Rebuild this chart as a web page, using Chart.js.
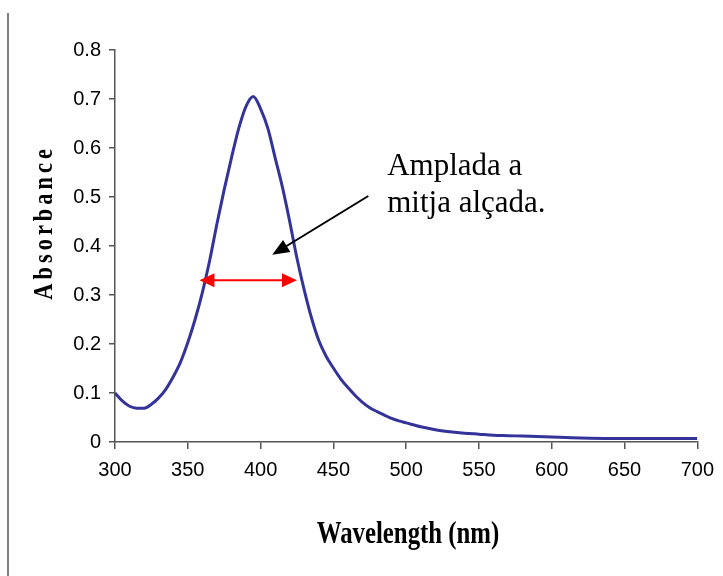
<!DOCTYPE html>
<html>
<head>
<meta charset="utf-8">
<script src="https://cdn.jsdelivr.net/npm/chart.js@4.4.0/dist/chart.umd.min.js"></script>
<style>
  body { margin: 0; background: #fff; }
  canvas { display: block; }
</style>
</head>
<body>
<canvas id="spectrum" width="723" height="576"></canvas>
<script>
// dades de l'espectre
const wavelengths = [300, 305, 310, 315, 320, 325, 330, 335, 340, 345,
  350, 355, 360, 365, 370, 375, 380, 385, 390, 395,
  400, 405, 410, 415, 420, 425, 430, 435, 440, 445,
  450, 455, 460, 465, 470, 475, 480, 485, 490, 495,
  500, 510, 520, 530, 540, 550, 560, 570, 580, 590,
  600, 610, 620, 640, 660, 680, 700];
const absorbance = [0.100, 0.084, 0.073, 0.069, 0.069, 0.077, 0.090, 0.108, 0.133, 0.163,
  0.203, 0.250, 0.305, 0.370, 0.445, 0.515, 0.580, 0.640, 0.685, 0.705,
  0.680, 0.640, 0.580, 0.520, 0.450, 0.375, 0.310, 0.253, 0.207, 0.175,
  0.151, 0.129, 0.111, 0.095, 0.081, 0.070, 0.062, 0.055, 0.048, 0.043,
  0.039, 0.031, 0.025, 0.021, 0.018, 0.016, 0.014, 0.013, 0.012, 0.011,
  0.010, 0.009, 0.008, 0.007, 0.007, 0.007, 0.007];
const xTicks = [300, 350, 400, 450, 500, 550, 600, 650, 700];
const yTicks = [0, 0.1, 0.2, 0.3, 0.4, 0.5, 0.6, 0.7, 0.8];

// anotacions
const halfHeight = 0.33;
const halfLeft = 358;
const halfRight = 425;
const arrowFrom = [474, 0.502];
const arrowTo = [408, 0.382];
const noteLines = ['Amplada a', 'mitja alçada.'];
const noteAt = [487, 0.545];
const noteLine2 = 0.469;

function arrowHead(ctx, x0, y0, x1, y1, len, half) {
  const a = Math.atan2(y1 - y0, x1 - x0);
  ctx.beginPath();
  ctx.moveTo(x1, y1);
  ctx.lineTo(x1 - len * Math.cos(a) + half * Math.sin(a), y1 - len * Math.sin(a) - half * Math.cos(a));
  ctx.lineTo(x1 - len * Math.cos(a) - half * Math.sin(a), y1 - len * Math.sin(a) + half * Math.cos(a));
  ctx.closePath();
  ctx.fill();
}

const extras = {
  id: 'extras',
  afterDraw(chart) {
    const { ctx, scales: { x, y } } = chart;
    ctx.save();

    // línia del marge esquerre
    ctx.strokeStyle = '#555';
    ctx.lineWidth = 1.5;
    ctx.beginPath();
    ctx.moveTo(8, 13);
    ctx.lineTo(8, 576);
    ctx.stroke();

    // fletxa vermella (amplada a mitja alçada)
    const ry = y.getPixelForValue(halfHeight);
    const rx0 = x.getPixelForValue(halfLeft);
    const rx1 = x.getPixelForValue(halfRight);
    ctx.strokeStyle = '#ff0000';
    ctx.fillStyle = '#ff0000';
    ctx.lineWidth = 2;
    ctx.beginPath();
    ctx.moveTo(rx0 + 10, ry);
    ctx.lineTo(rx1 - 10, ry);
    ctx.stroke();
    arrowHead(ctx, rx1, ry, rx0, ry, 15, 7);
    arrowHead(ctx, rx0, ry, rx1, ry, 15, 7);

    // fletxa negra
    const bx0 = x.getPixelForValue(arrowFrom[0]);
    const by0 = y.getPixelForValue(arrowFrom[1]);
    const bx1 = x.getPixelForValue(arrowTo[0]);
    const by1 = y.getPixelForValue(arrowTo[1]);
    ctx.strokeStyle = '#000';
    ctx.fillStyle = '#000';
    ctx.lineWidth = 2;
    ctx.beginPath();
    ctx.moveTo(bx0, by0);
    ctx.lineTo(bx1 + (bx0 - bx1) * 0.12, by1 + (by0 - by1) * 0.12);
    ctx.stroke();
    arrowHead(ctx, bx0, by0, bx1, by1, 17, 7);

    // text de l'anotació
    ctx.font = '31px "Liberation Serif", "Times New Roman", serif';
    ctx.textAlign = 'left';
    ctx.textBaseline = 'alphabetic';
    ctx.fillText(noteLines[0], x.getPixelForValue(noteAt[0]), y.getPixelForValue(noteAt[1]));
    ctx.fillText(noteLines[1], x.getPixelForValue(noteAt[0]), y.getPixelForValue(noteLine2));

    // títols dels eixos
    ctx.font = 'bold 31px "Liberation Serif", "Times New Roman", serif';
    ctx.textAlign = 'center';
    ctx.save();
    ctx.translate(408, 543);
    ctx.scale(0.8, 1);
    ctx.fillText('Wavelength (nm)', 0, 0);
    ctx.restore();

    ctx.save();
    ctx.translate(45, 224);
    ctx.rotate(-Math.PI / 2);
    ctx.scale(0.8, 1);
    ctx.font = 'bold 28px "Liberation Serif", "Times New Roman", serif';
    ctx.letterSpacing = '5px';
    ctx.textBaseline = 'middle';
    ctx.fillText('Absorbance', 2, 0);
    ctx.restore();

    ctx.restore();
  }
};

const ctx = document.getElementById('spectrum').getContext('2d');
new Chart(ctx, {
  type: 'line',
  data: {
    datasets: [{
      data: wavelengths.map((w, i) => ({ x: w, y: absorbance[i] })),
      borderColor: '#333399',
      borderWidth: 3,
      pointRadius: 0,
      cubicInterpolationMode: 'monotone',
      fill: false
    }]
  },
  options: {
    responsive: false,
    animation: false,
    layout: { padding: { top: 50, right: 25, left: 0, bottom: 0 } },
    plugins: { legend: { display: false }, tooltip: { enabled: false } },
    scales: {
      x: {
        type: 'linear',
        min: 300,
        max: 700,
        afterBuildTicks: s => { s.ticks = xTicks.map(v => ({ value: v })); },
        afterFit: s => { s.height = 134; },
        grid: { drawOnChartArea: false, tickLength: 7, color: '#555', lineWidth: 1.5 },
        border: { color: '#555', width: 1.5 },
        ticks: {
          color: '#000',
          padding: 9,
          maxRotation: 0,
          font: { family: '"Liberation Sans", Arial, sans-serif', size: 20 }
        }
      },
      y: {
        min: 0,
        max: 0.8,
        afterBuildTicks: s => { s.ticks = yTicks.map(v => ({ value: v })); },
        afterFit: s => { s.width = 115; },
        grid: { drawOnChartArea: false, tickLength: 6, color: '#555', lineWidth: 1.5 },
        border: { color: '#555', width: 1.5 },
        ticks: {
          color: '#000',
          padding: 8,
          callback: v => String(v),
          font: { family: '"Liberation Sans", Arial, sans-serif', size: 20 }
        }
      }
    }
  },
  plugins: [extras]
});
</script>
</body>
</html>
